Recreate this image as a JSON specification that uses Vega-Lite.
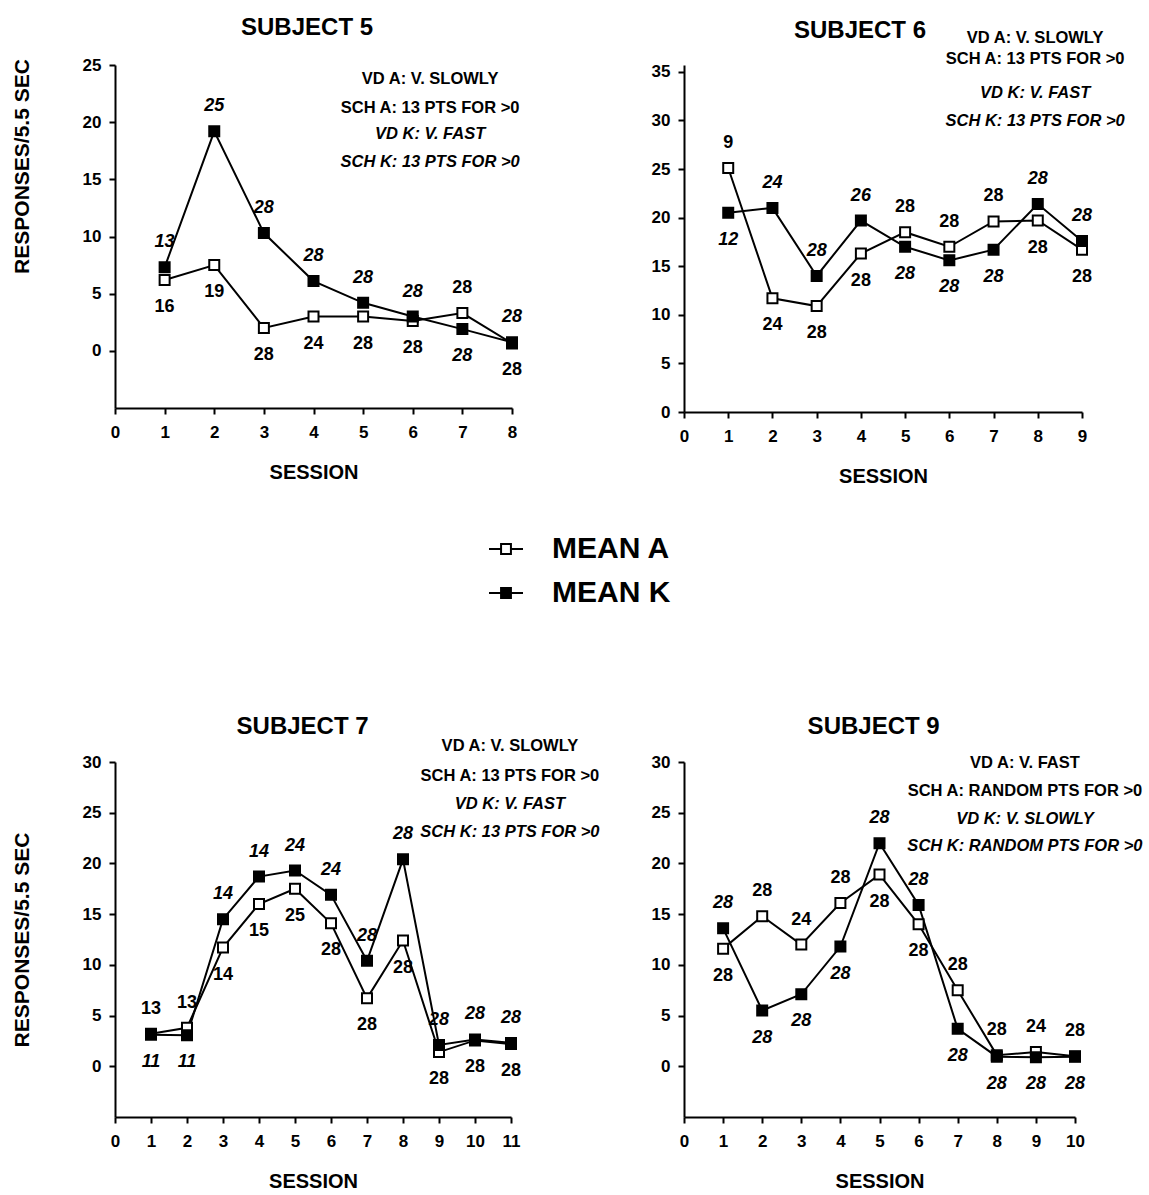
{
  "$schema": "https://vega.github.io/schema/vega-lite/v6.json",
  "padding": {"left": 11, "top": 16, "right": 5, "bottom": 5},
  "background": "white",
  "config": {
    "font": "Liberation Sans",
    "view": {"stroke": null},
    "axis": {"grid": false, "domainColor": "black", "domainWidth": 2, "tickColor": "black", "tickWidth": 2, "tickSize": 6, "labelColor": "black", "labelFont": "Liberation Sans", "labelFontSize": 17, "labelFontWeight": "bold", "titleColor": "black", "titleFont": "Liberation Sans", "titleFontWeight": "bold", "labelOverlap": false},
    "axisX": {"labelPadding": 10, "titlePadding": 22, "titleFontSize": 20, "labelFlush": false},
    "axisY": {"labelPadding": 8, "titlePadding": 50, "titleFontSize": 21},
    "text": {"font": "Liberation Sans", "fontSize": 18, "fontWeight": "bold", "color": "black"}
  },
  "datasets": {
    "pts": [
      {"subject": 5, "session": 1, "series": "MEAN A", "value": 6.2, "n": 16},
      {"subject": 5, "session": 2, "series": "MEAN A", "value": 7.5, "n": 19},
      {"subject": 5, "session": 3, "series": "MEAN A", "value": 2.0, "n": 28},
      {"subject": 5, "session": 4, "series": "MEAN A", "value": 3.0, "n": 24},
      {"subject": 5, "session": 5, "series": "MEAN A", "value": 3.0, "n": 28},
      {"subject": 5, "session": 6, "series": "MEAN A", "value": 2.6, "n": 28},
      {"subject": 5, "session": 7, "series": "MEAN A", "value": 3.3, "n": 28},
      {"subject": 5, "session": 8, "series": "MEAN A", "value": 0.65, "n": 28},
      {"subject": 6, "session": 1, "series": "MEAN A", "value": 25.1, "n": 9},
      {"subject": 6, "session": 2, "series": "MEAN A", "value": 11.7, "n": 24},
      {"subject": 6, "session": 3, "series": "MEAN A", "value": 10.9, "n": 28},
      {"subject": 6, "session": 4, "series": "MEAN A", "value": 16.3, "n": 28},
      {"subject": 6, "session": 5, "series": "MEAN A", "value": 18.5, "n": 28},
      {"subject": 6, "session": 6, "series": "MEAN A", "value": 17.0, "n": 28},
      {"subject": 6, "session": 7, "series": "MEAN A", "value": 19.6, "n": 28},
      {"subject": 6, "session": 8, "series": "MEAN A", "value": 19.7, "n": 28},
      {"subject": 6, "session": 9, "series": "MEAN A", "value": 16.7, "n": 28},
      {"subject": 7, "session": 1, "series": "MEAN A", "value": 3.2, "n": 13},
      {"subject": 7, "session": 2, "series": "MEAN A", "value": 3.8, "n": 13},
      {"subject": 7, "session": 3, "series": "MEAN A", "value": 11.7, "n": 14},
      {"subject": 7, "session": 4, "series": "MEAN A", "value": 16.0, "n": 15},
      {"subject": 7, "session": 5, "series": "MEAN A", "value": 17.5, "n": 25},
      {"subject": 7, "session": 6, "series": "MEAN A", "value": 14.1, "n": 28},
      {"subject": 7, "session": 7, "series": "MEAN A", "value": 6.7, "n": 28},
      {"subject": 7, "session": 8, "series": "MEAN A", "value": 12.4, "n": 28},
      {"subject": 7, "session": 9, "series": "MEAN A", "value": 1.4, "n": 28},
      {"subject": 7, "session": 10, "series": "MEAN A", "value": 2.55, "n": 28},
      {"subject": 7, "session": 11, "series": "MEAN A", "value": 2.2, "n": 28},
      {"subject": 9, "session": 1, "series": "MEAN A", "value": 11.6, "n": 28},
      {"subject": 9, "session": 2, "series": "MEAN A", "value": 14.8, "n": 28},
      {"subject": 9, "session": 3, "series": "MEAN A", "value": 12.0, "n": 24},
      {"subject": 9, "session": 4, "series": "MEAN A", "value": 16.1, "n": 28},
      {"subject": 9, "session": 5, "series": "MEAN A", "value": 18.9, "n": 28},
      {"subject": 9, "session": 6, "series": "MEAN A", "value": 14.0, "n": 28},
      {"subject": 9, "session": 7, "series": "MEAN A", "value": 7.5, "n": 28},
      {"subject": 9, "session": 8, "series": "MEAN A", "value": 1.1, "n": 28},
      {"subject": 9, "session": 9, "series": "MEAN A", "value": 1.4, "n": 24},
      {"subject": 9, "session": 10, "series": "MEAN A", "value": 1.0, "n": 28},
      {"subject": 5, "session": 1, "series": "MEAN K", "value": 7.3, "n": 13},
      {"subject": 5, "session": 2, "series": "MEAN K", "value": 19.2, "n": 25},
      {"subject": 5, "session": 3, "series": "MEAN K", "value": 10.3, "n": 28},
      {"subject": 5, "session": 4, "series": "MEAN K", "value": 6.1, "n": 28},
      {"subject": 5, "session": 5, "series": "MEAN K", "value": 4.2, "n": 28},
      {"subject": 5, "session": 6, "series": "MEAN K", "value": 3.0, "n": 28},
      {"subject": 5, "session": 7, "series": "MEAN K", "value": 1.9, "n": 28},
      {"subject": 5, "session": 8, "series": "MEAN K", "value": 0.75, "n": 28},
      {"subject": 6, "session": 1, "series": "MEAN K", "value": 20.5, "n": 12},
      {"subject": 6, "session": 2, "series": "MEAN K", "value": 21.0, "n": 24},
      {"subject": 6, "session": 3, "series": "MEAN K", "value": 14.0, "n": 28},
      {"subject": 6, "session": 4, "series": "MEAN K", "value": 19.7, "n": 26},
      {"subject": 6, "session": 5, "series": "MEAN K", "value": 17.0, "n": 28},
      {"subject": 6, "session": 6, "series": "MEAN K", "value": 15.6, "n": 28},
      {"subject": 6, "session": 7, "series": "MEAN K", "value": 16.7, "n": 28},
      {"subject": 6, "session": 8, "series": "MEAN K", "value": 21.4, "n": 28},
      {"subject": 6, "session": 9, "series": "MEAN K", "value": 17.6, "n": 28},
      {"subject": 7, "session": 1, "series": "MEAN K", "value": 3.1, "n": 11},
      {"subject": 7, "session": 2, "series": "MEAN K", "value": 3.05, "n": 11},
      {"subject": 7, "session": 3, "series": "MEAN K", "value": 14.5, "n": 14},
      {"subject": 7, "session": 4, "series": "MEAN K", "value": 18.7, "n": 14},
      {"subject": 7, "session": 5, "series": "MEAN K", "value": 19.3, "n": 24},
      {"subject": 7, "session": 6, "series": "MEAN K", "value": 16.9, "n": 24},
      {"subject": 7, "session": 7, "series": "MEAN K", "value": 10.4, "n": 28},
      {"subject": 7, "session": 8, "series": "MEAN K", "value": 20.4, "n": 28},
      {"subject": 7, "session": 9, "series": "MEAN K", "value": 2.1, "n": 28},
      {"subject": 7, "session": 10, "series": "MEAN K", "value": 2.65, "n": 28},
      {"subject": 7, "session": 11, "series": "MEAN K", "value": 2.3, "n": 28},
      {"subject": 9, "session": 1, "series": "MEAN K", "value": 13.6, "n": 28},
      {"subject": 9, "session": 2, "series": "MEAN K", "value": 5.5, "n": 28},
      {"subject": 9, "session": 3, "series": "MEAN K", "value": 7.1, "n": 28},
      {"subject": 9, "session": 4, "series": "MEAN K", "value": 11.8, "n": 28},
      {"subject": 9, "session": 5, "series": "MEAN K", "value": 22.0, "n": 28},
      {"subject": 9, "session": 6, "series": "MEAN K", "value": 15.9, "n": 28},
      {"subject": 9, "session": 7, "series": "MEAN K", "value": 3.7, "n": 28},
      {"subject": 9, "session": 8, "series": "MEAN K", "value": 0.95, "n": 28},
      {"subject": 9, "session": 9, "series": "MEAN K", "value": 0.9, "n": 28},
      {"subject": 9, "session": 10, "series": "MEAN K", "value": 0.95, "n": 28}
    ],
    "notes": [
      {"subject": 5, "style": "T", "lines": "SUBJECT 5"},
      {"subject": 5, "style": "A", "lines": ["VD A: V. SLOWLY", "SCH A: 13 PTS FOR >0"]},
      {"subject": 5, "style": "K", "lines": ["VD K: V. FAST", "SCH K: 13 PTS FOR >0"]},
      {"subject": 6, "style": "T", "lines": "SUBJECT 6"},
      {"subject": 6, "style": "A", "lines": ["VD A: V. SLOWLY", "SCH A: 13 PTS FOR >0"]},
      {"subject": 6, "style": "K", "lines": ["VD K: V. FAST", "SCH K: 13 PTS FOR >0"]},
      {"subject": 7, "style": "T", "lines": "SUBJECT 7"},
      {"subject": 7, "style": "A", "lines": ["VD A: V. SLOWLY", "SCH A: 13 PTS FOR >0"]},
      {"subject": 7, "style": "K", "lines": ["VD K: V. FAST", "SCH K: 13 PTS FOR >0"]},
      {"subject": 9, "style": "T", "lines": "SUBJECT 9"},
      {"subject": 9, "style": "A", "lines": ["VD A: V. FAST", "SCH A: RANDOM PTS FOR >0"]},
      {"subject": 9, "style": "K", "lines": ["VD K: V. SLOWLY", "SCH K: RANDOM PTS FOR >0"]}
    ]
  },
  "columns": 2,
  "bounds": "flush",
  "spacing": {"row": 350, "column": 172},
  "concat": [
    {
      "width": 397, "height": 343,
      "layer": [
        {
          "data": {"name": "pts"},
          "transform": [{"filter": "datum.subject == 5"}, {"joinaggregate": [{"op": "max", "field": "value", "as": "top"}], "groupby": ["session"]}],
          "encoding": {
            "x": {"field": "session", "type": "quantitative", "scale": {"domain": [0, 8], "nice": false, "zero": false}, "axis": {"values": [0, 1, 2, 3, 4, 5, 6, 7, 8], "title": "SESSION"}},
            "y": {"field": "value", "type": "quantitative", "scale": {"domain": [-5, 25], "nice": false, "zero": false}, "axis": {"values": [0, 5, 10, 15, 20, 25], "title": "RESPONSES/5.5 SEC", "titleY": 101}}
          },
          "layer": [
            {"mark": {"type": "line", "color": "black", "strokeWidth": 2}, "encoding": {"detail": {"field": "series"}}},
            {"mark": {"type": "point", "shape": "square", "filled": true, "size": 100, "stroke": "black", "strokeWidth": 2, "opacity": 1}, "encoding": {"fill": {"field": "series", "type": "nominal", "scale": {"domain": ["MEAN A", "MEAN K"], "range": ["white", "black"]}, "legend": {"orient": "none", "legendX": 373, "legendY": 466, "title": null, "padding": 0, "symbolType": "M-1,0L-0.29,0M0.29,0L1,0M-0.29,-0.29L0.29,-0.29L0.29,0.29L-0.29,0.29Z", "symbolSize": 1156, "symbolStrokeWidth": 2, "symbolStrokeColor": "black", "labelFontSize": 30, "labelFontWeight": "bold", "labelFont": "Liberation Sans", "labelColor": "black", "labelOffset": 28, "rowPadding": 11}}}},
            {"transform": [{"filter": "datum.series == 'MEAN A' && datum.value >= datum.top"}], "mark": {"type": "text", "dy": -25}, "encoding": {"text": {"field": "n"}}},
            {"transform": [{"filter": "datum.series == 'MEAN A' && datum.value < datum.top"}], "mark": {"type": "text", "dy": 27}, "encoding": {"text": {"field": "n"}}},
            {"transform": [{"filter": "datum.series == 'MEAN K' && datum.value >= datum.top"}], "mark": {"type": "text", "dy": -25, "fontStyle": "italic"}, "encoding": {"text": {"field": "n"}}},
            {"transform": [{"filter": "datum.series == 'MEAN K' && datum.value < datum.top"}], "mark": {"type": "text", "dy": 27, "fontStyle": "italic"}, "encoding": {"text": {"field": "n"}}}
          ]
        },
        {"data": {"name": "notes"}, "transform": [{"filter": "datum.subject == 5 && datum.style == 'T'"}], "mark": {"type": "text", "fontSize": 24, "baseline": "alphabetic", "align": "center"}, "encoding": {"x": {"datum": 3.87, "type": "quantitative", "axis": {"values": [0, 1, 2, 3, 4, 5, 6, 7, 8], "title": "SESSION"}}, "y": {"datum": 27.6, "type": "quantitative", "axis": {"values": [0, 5, 10, 15, 20, 25], "title": "RESPONSES/5.5 SEC", "titleY": 101}}, "text": {"field": "lines", "type": "nominal"}}},
        {"data": {"name": "notes"}, "transform": [{"filter": "datum.subject == 5 && datum.style == 'A'"}], "mark": {"type": "text", "fontSize": 16.5, "lineHeight": 29, "baseline": "alphabetic", "align": "center"}, "encoding": {"x": {"datum": 6.35, "type": "quantitative", "axis": {"values": [0, 1, 2, 3, 4, 5, 6, 7, 8], "title": "SESSION"}}, "y": {"datum": 23.36, "type": "quantitative", "axis": {"values": [0, 5, 10, 15, 20, 25], "title": "RESPONSES/5.5 SEC", "titleY": 101}}, "text": {"field": "lines", "type": "nominal"}}},
        {"data": {"name": "notes"}, "transform": [{"filter": "datum.subject == 5 && datum.style == 'K'"}], "mark": {"type": "text", "fontSize": 16.5, "fontStyle": "italic", "lineHeight": 28, "baseline": "alphabetic", "align": "center"}, "encoding": {"x": {"datum": 6.35, "type": "quantitative", "axis": {"values": [0, 1, 2, 3, 4, 5, 6, 7, 8], "title": "SESSION"}}, "y": {"datum": 18.55, "type": "quantitative", "axis": {"values": [0, 5, 10, 15, 20, 25], "title": "RESPONSES/5.5 SEC", "titleY": 101}}, "text": {"field": "lines", "type": "nominal"}}}
      ]
    },
    {
      "width": 398, "height": 347,
      "layer": [
        {
          "data": {"name": "pts"},
          "transform": [{"filter": "datum.subject == 6"}, {"joinaggregate": [{"op": "max", "field": "value", "as": "top"}], "groupby": ["session"]}],
          "encoding": {
            "x": {"field": "session", "type": "quantitative", "scale": {"domain": [0, 9], "nice": false, "zero": false}, "axis": {"values": [0, 1, 2, 3, 4, 5, 6, 7, 8, 9], "title": "SESSION"}},
            "y": {"field": "value", "type": "quantitative", "scale": {"domain": [0, 35.7], "nice": false, "zero": false}, "axis": {"values": [0, 5, 10, 15, 20, 25, 30, 35], "title": null}}
          },
          "layer": [
            {"mark": {"type": "line", "color": "black", "strokeWidth": 2}, "encoding": {"detail": {"field": "series"}}},
            {"mark": {"type": "point", "shape": "square", "filled": true, "size": 100, "stroke": "black", "strokeWidth": 2, "opacity": 1}, "encoding": {"fill": {"field": "series", "type": "nominal", "scale": {"domain": ["MEAN A", "MEAN K"], "range": ["white", "black"]}, "legend": {"orient": "none", "legendX": 373, "legendY": 466, "title": null, "padding": 0, "symbolType": "M-1,0L-0.29,0M0.29,0L1,0M-0.29,-0.29L0.29,-0.29L0.29,0.29L-0.29,0.29Z", "symbolSize": 1156, "symbolStrokeWidth": 2, "symbolStrokeColor": "black", "labelFontSize": 30, "labelFontWeight": "bold", "labelFont": "Liberation Sans", "labelColor": "black", "labelOffset": 28, "rowPadding": 11}}}},
            {"transform": [{"filter": "datum.series == 'MEAN A' && datum.value >= datum.top"}], "mark": {"type": "text", "dy": -25}, "encoding": {"text": {"field": "n"}}},
            {"transform": [{"filter": "datum.series == 'MEAN A' && datum.value < datum.top"}], "mark": {"type": "text", "dy": 27}, "encoding": {"text": {"field": "n"}}},
            {"transform": [{"filter": "datum.series == 'MEAN K' && datum.value >= datum.top"}], "mark": {"type": "text", "dy": -25, "fontStyle": "italic"}, "encoding": {"text": {"field": "n"}}},
            {"transform": [{"filter": "datum.series == 'MEAN K' && datum.value < datum.top"}], "mark": {"type": "text", "dy": 27, "fontStyle": "italic"}, "encoding": {"text": {"field": "n"}}}
          ]
        },
        {"data": {"name": "notes"}, "transform": [{"filter": "datum.subject == 6 && datum.style == 'T'"}], "mark": {"type": "text", "fontSize": 24, "baseline": "alphabetic", "align": "center"}, "encoding": {"x": {"datum": 3.98, "type": "quantitative", "axis": {"values": [0, 1, 2, 3, 4, 5, 6, 7, 8, 9], "title": "SESSION"}}, "y": {"datum": 38.5, "type": "quantitative", "axis": {"values": [0, 5, 10, 15, 20, 25, 30, 35], "title": null}}, "text": {"field": "lines", "type": "nominal"}}},
        {"data": {"name": "notes"}, "transform": [{"filter": "datum.subject == 6 && datum.style == 'A'"}], "mark": {"type": "text", "fontSize": 16.5, "lineHeight": 21, "baseline": "alphabetic", "align": "center"}, "encoding": {"x": {"datum": 7.94, "type": "quantitative", "axis": {"values": [0, 1, 2, 3, 4, 5, 6, 7, 8, 9], "title": "SESSION"}}, "y": {"datum": 37.96, "type": "quantitative", "axis": {"values": [0, 5, 10, 15, 20, 25, 30, 35], "title": null}}, "text": {"field": "lines", "type": "nominal"}}},
        {"data": {"name": "notes"}, "transform": [{"filter": "datum.subject == 6 && datum.style == 'K'"}], "mark": {"type": "text", "fontSize": 16.5, "fontStyle": "italic", "lineHeight": 28, "baseline": "alphabetic", "align": "center"}, "encoding": {"x": {"datum": 7.94, "type": "quantitative", "axis": {"values": [0, 1, 2, 3, 4, 5, 6, 7, 8, 9], "title": "SESSION"}}, "y": {"datum": 32.3, "type": "quantitative", "axis": {"values": [0, 5, 10, 15, 20, 25, 30, 35], "title": null}}, "text": {"field": "lines", "type": "nominal"}}}
      ]
    },
    {
      "width": 396, "height": 355,
      "layer": [
        {
          "data": {"name": "pts"},
          "transform": [{"filter": "datum.subject == 7"}, {"joinaggregate": [{"op": "max", "field": "value", "as": "top"}], "groupby": ["session"]}],
          "encoding": {
            "x": {"field": "session", "type": "quantitative", "scale": {"domain": [0, 11], "nice": false, "zero": false}, "axis": {"values": [0, 1, 2, 3, 4, 5, 6, 7, 8, 9, 10, 11], "title": "SESSION"}},
            "y": {"field": "value", "type": "quantitative", "scale": {"domain": [-5, 30], "nice": false, "zero": false}, "axis": {"values": [0, 5, 10, 15, 20, 25, 30], "title": "RESPONSES/5.5 SEC"}}
          },
          "layer": [
            {"mark": {"type": "line", "color": "black", "strokeWidth": 2}, "encoding": {"detail": {"field": "series"}}},
            {"mark": {"type": "point", "shape": "square", "filled": true, "size": 100, "stroke": "black", "strokeWidth": 2, "opacity": 1}, "encoding": {"fill": {"field": "series", "type": "nominal", "scale": {"domain": ["MEAN A", "MEAN K"], "range": ["white", "black"]}, "legend": {"orient": "none", "legendX": 373, "legendY": 466, "title": null, "padding": 0, "symbolType": "M-1,0L-0.29,0M0.29,0L1,0M-0.29,-0.29L0.29,-0.29L0.29,0.29L-0.29,0.29Z", "symbolSize": 1156, "symbolStrokeWidth": 2, "symbolStrokeColor": "black", "labelFontSize": 30, "labelFontWeight": "bold", "labelFont": "Liberation Sans", "labelColor": "black", "labelOffset": 28, "rowPadding": 11}}}},
            {"transform": [{"filter": "datum.series == 'MEAN A' && datum.value >= datum.top"}], "mark": {"type": "text", "dy": -25}, "encoding": {"text": {"field": "n"}}},
            {"transform": [{"filter": "datum.series == 'MEAN A' && datum.value < datum.top"}], "mark": {"type": "text", "dy": 27}, "encoding": {"text": {"field": "n"}}},
            {"transform": [{"filter": "datum.series == 'MEAN K' && datum.value >= datum.top"}], "mark": {"type": "text", "dy": -25, "fontStyle": "italic"}, "encoding": {"text": {"field": "n"}}},
            {"transform": [{"filter": "datum.series == 'MEAN K' && datum.value < datum.top"}], "mark": {"type": "text", "dy": 27, "fontStyle": "italic"}, "encoding": {"text": {"field": "n"}}}
          ]
        },
        {"data": {"name": "notes"}, "transform": [{"filter": "datum.subject == 7 && datum.style == 'T'"}], "mark": {"type": "text", "fontSize": 24, "baseline": "alphabetic", "align": "center"}, "encoding": {"x": {"datum": 5.21, "type": "quantitative", "axis": {"values": [0, 1, 2, 3, 4, 5, 6, 7, 8, 9, 10, 11], "title": "SESSION"}}, "y": {"datum": 32.8, "type": "quantitative", "axis": {"values": [0, 5, 10, 15, 20, 25, 30], "title": "RESPONSES/5.5 SEC"}}, "text": {"field": "lines", "type": "nominal"}}},
        {"data": {"name": "notes"}, "transform": [{"filter": "datum.subject == 7 && datum.style == 'A'"}], "mark": {"type": "text", "fontSize": 16.5, "lineHeight": 30, "baseline": "alphabetic", "align": "center"}, "encoding": {"x": {"datum": 10.97, "type": "quantitative", "axis": {"values": [0, 1, 2, 3, 4, 5, 6, 7, 8, 9, 10, 11], "title": "SESSION"}}, "y": {"datum": 31.1, "type": "quantitative", "axis": {"values": [0, 5, 10, 15, 20, 25, 30], "title": "RESPONSES/5.5 SEC"}}, "text": {"field": "lines", "type": "nominal"}}},
        {"data": {"name": "notes"}, "transform": [{"filter": "datum.subject == 7 && datum.style == 'K'"}], "mark": {"type": "text", "fontSize": 16.5, "fontStyle": "italic", "lineHeight": 28, "baseline": "alphabetic", "align": "center"}, "encoding": {"x": {"datum": 10.97, "type": "quantitative", "axis": {"values": [0, 1, 2, 3, 4, 5, 6, 7, 8, 9, 10, 11], "title": "SESSION"}}, "y": {"datum": 25.4, "type": "quantitative", "axis": {"values": [0, 5, 10, 15, 20, 25, 30], "title": "RESPONSES/5.5 SEC"}}, "text": {"field": "lines", "type": "nominal"}}}
      ]
    },
    {
      "width": 391, "height": 355,
      "layer": [
        {
          "data": {"name": "pts"},
          "transform": [{"filter": "datum.subject == 9"}, {"joinaggregate": [{"op": "max", "field": "value", "as": "top"}], "groupby": ["session"]}],
          "encoding": {
            "x": {"field": "session", "type": "quantitative", "scale": {"domain": [0, 10], "nice": false, "zero": false}, "axis": {"values": [0, 1, 2, 3, 4, 5, 6, 7, 8, 9, 10], "title": "SESSION"}},
            "y": {"field": "value", "type": "quantitative", "scale": {"domain": [-5, 30], "nice": false, "zero": false}, "axis": {"values": [0, 5, 10, 15, 20, 25, 30], "title": null}}
          },
          "layer": [
            {"mark": {"type": "line", "color": "black", "strokeWidth": 2}, "encoding": {"detail": {"field": "series"}}},
            {"mark": {"type": "point", "shape": "square", "filled": true, "size": 100, "stroke": "black", "strokeWidth": 2, "opacity": 1}, "encoding": {"fill": {"field": "series", "type": "nominal", "scale": {"domain": ["MEAN A", "MEAN K"], "range": ["white", "black"]}, "legend": {"orient": "none", "legendX": 373, "legendY": 466, "title": null, "padding": 0, "symbolType": "M-1,0L-0.29,0M0.29,0L1,0M-0.29,-0.29L0.29,-0.29L0.29,0.29L-0.29,0.29Z", "symbolSize": 1156, "symbolStrokeWidth": 2, "symbolStrokeColor": "black", "labelFontSize": 30, "labelFontWeight": "bold", "labelFont": "Liberation Sans", "labelColor": "black", "labelOffset": 28, "rowPadding": 11}}}},
            {"transform": [{"filter": "datum.series == 'MEAN A' && datum.value >= datum.top"}], "mark": {"type": "text", "dy": -25}, "encoding": {"text": {"field": "n"}}},
            {"transform": [{"filter": "datum.series == 'MEAN A' && datum.value < datum.top"}], "mark": {"type": "text", "dy": 27}, "encoding": {"text": {"field": "n"}}},
            {"transform": [{"filter": "datum.series == 'MEAN K' && datum.value >= datum.top"}], "mark": {"type": "text", "dy": -25, "fontStyle": "italic"}, "encoding": {"text": {"field": "n"}}},
            {"transform": [{"filter": "datum.series == 'MEAN K' && datum.value < datum.top"}], "mark": {"type": "text", "dy": 27, "fontStyle": "italic"}, "encoding": {"text": {"field": "n"}}}
          ]
        },
        {"data": {"name": "notes"}, "transform": [{"filter": "datum.subject == 9 && datum.style == 'T'"}], "mark": {"type": "text", "fontSize": 24, "baseline": "alphabetic", "align": "center"}, "encoding": {"x": {"datum": 4.85, "type": "quantitative", "axis": {"values": [0, 1, 2, 3, 4, 5, 6, 7, 8, 9, 10], "title": "SESSION"}}, "y": {"datum": 32.8, "type": "quantitative", "axis": {"values": [0, 5, 10, 15, 20, 25, 30], "title": null}}, "text": {"field": "lines", "type": "nominal"}}},
        {"data": {"name": "notes"}, "transform": [{"filter": "datum.subject == 9 && datum.style == 'A'"}], "mark": {"type": "text", "fontSize": 16.5, "lineHeight": 28, "baseline": "alphabetic", "align": "center"}, "encoding": {"x": {"datum": 8.72, "type": "quantitative", "axis": {"values": [0, 1, 2, 3, 4, 5, 6, 7, 8, 9, 10], "title": "SESSION"}}, "y": {"datum": 29.4, "type": "quantitative", "axis": {"values": [0, 5, 10, 15, 20, 25, 30], "title": null}}, "text": {"field": "lines", "type": "nominal"}}},
        {"data": {"name": "notes"}, "transform": [{"filter": "datum.subject == 9 && datum.style == 'K'"}], "mark": {"type": "text", "fontSize": 16.5, "fontStyle": "italic", "lineHeight": 27, "baseline": "alphabetic", "align": "center"}, "encoding": {"x": {"datum": 8.72, "type": "quantitative", "axis": {"values": [0, 1, 2, 3, 4, 5, 6, 7, 8, 9, 10], "title": "SESSION"}}, "y": {"datum": 23.9, "type": "quantitative", "axis": {"values": [0, 5, 10, 15, 20, 25, 30], "title": null}}, "text": {"field": "lines", "type": "nominal"}}}
      ]
    }
  ]
}
